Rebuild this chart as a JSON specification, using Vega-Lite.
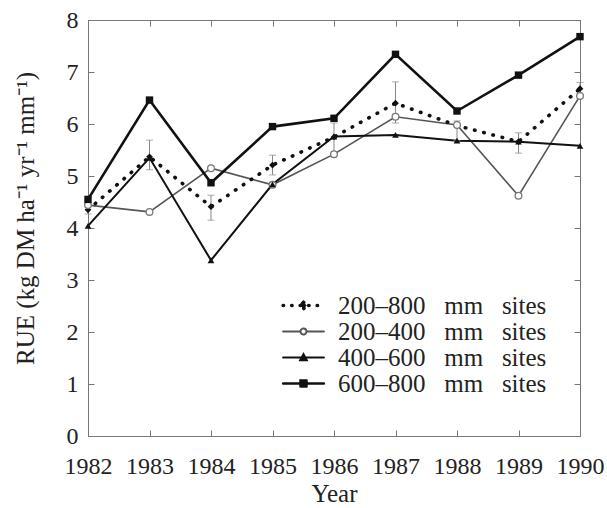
{
  "$schema": "https://vega.github.io/schema/vega-lite/v6.json",
  "width": 492,
  "height": 416,
  "autosize": "none",
  "padding": {"left": 88, "top": 20, "right": 27, "bottom": 72},
  "background": "white",
  "view": {"stroke": "#777", "strokeWidth": 1},
  "config": {
    "font": "Liberation Serif",
    "axis": {
      "labelFont": "Liberation Serif",
      "labelFontSize": 24,
      "labelColor": "#222",
      "titleFont": "Liberation Serif",
      "titleFontSize": 25,
      "titleFontWeight": "normal",
      "titleColor": "#222",
      "domainColor": "#777",
      "tickColor": "#777",
      "grid": false
    },
    "legend": {
      "labelFont": "Liberation Serif",
      "labelFontSize": 25,
      "labelColor": "#222",
      "labelLimit": 400
    }
  },
  "datasets": {
    "rue": [
      {"year": 1982, "series": "200–800", "rue": 4.35},
      {"year": 1983, "series": "200–800", "rue": 5.37},
      {"year": 1984, "series": "200–800", "rue": 4.41},
      {"year": 1985, "series": "200–800", "rue": 5.21},
      {"year": 1986, "series": "200–800", "rue": 5.75},
      {"year": 1987, "series": "200–800", "rue": 6.40},
      {"year": 1988, "series": "200–800", "rue": 5.97},
      {"year": 1989, "series": "200–800", "rue": 5.66},
      {"year": 1990, "series": "200–800", "rue": 6.68},
      {"year": 1982, "series": "200–400", "rue": 4.44},
      {"year": 1983, "series": "200–400", "rue": 4.31},
      {"year": 1984, "series": "200–400", "rue": 5.15},
      {"year": 1985, "series": "200–400", "rue": 4.83},
      {"year": 1986, "series": "200–400", "rue": 5.42},
      {"year": 1987, "series": "200–400", "rue": 6.14},
      {"year": 1988, "series": "200–400", "rue": 5.98},
      {"year": 1989, "series": "200–400", "rue": 4.62},
      {"year": 1990, "series": "200–400", "rue": 6.54},
      {"year": 1982, "series": "400–600", "rue": 4.04},
      {"year": 1983, "series": "400–600", "rue": 5.35},
      {"year": 1984, "series": "400–600", "rue": 3.38},
      {"year": 1985, "series": "400–600", "rue": 4.84},
      {"year": 1986, "series": "400–600", "rue": 5.76},
      {"year": 1987, "series": "400–600", "rue": 5.79},
      {"year": 1988, "series": "400–600", "rue": 5.68},
      {"year": 1989, "series": "400–600", "rue": 5.66},
      {"year": 1990, "series": "400–600", "rue": 5.58},
      {"year": 1982, "series": "600–800", "rue": 4.55},
      {"year": 1983, "series": "600–800", "rue": 6.46},
      {"year": 1984, "series": "600–800", "rue": 4.87},
      {"year": 1985, "series": "600–800", "rue": 5.95},
      {"year": 1986, "series": "600–800", "rue": 6.11},
      {"year": 1987, "series": "600–800", "rue": 7.34},
      {"year": 1988, "series": "600–800", "rue": 6.25},
      {"year": 1989, "series": "600–800", "rue": 6.94},
      {"year": 1990, "series": "600–800", "rue": 7.68}
    ],
    "err": [
      {"year": 1982, "lo": 4.27, "hi": 4.43},
      {"year": 1983, "lo": 5.12, "hi": 5.69},
      {"year": 1984, "lo": 4.15, "hi": 4.63},
      {"year": 1985, "lo": 5.02, "hi": 5.40},
      {"year": 1986, "lo": 5.37, "hi": 6.02},
      {"year": 1987, "lo": 6.02, "hi": 6.81},
      {"year": 1988, "lo": 5.68, "hi": 6.06},
      {"year": 1989, "lo": 5.44, "hi": 5.83},
      {"year": 1990, "lo": 6.55, "hi": 6.80}
    ]
  },
  "resolve": {"axis": {"x": "independent", "y": "independent"}},
  "layer": [
    {
      "data": {"name": "rue"},
      "transform": [{"filter": "datum.series == '200–400'"}],
      "mark": {"type": "line", "strokeWidth": 1.6},
      "encoding": {
        "x": {
          "field": "year", "type": "quantitative",
          "scale": {"domain": [1982, 1990], "nice": false, "zero": false},
          "axis": {"title": "Year", "values": [1982,1983,1984,1985,1986,1987,1988,1989,1990], "format": "d", "tickSize": -6, "labelPadding": 24, "titlePadding": 3, "labelFlush": false, "labelOverlap": false}
        },
        "y": {
          "field": "rue", "type": "quantitative",
          "scale": {"domain": [0, 8], "nice": false},
          "axis": {"title": "RUE (kg DM ha⁻¹ yr⁻¹ mm⁻¹)", "titleY": 198, "values": [0,1,2,3,4,5,6,7,8], "tickSize": -6, "labelPadding": 16, "titlePadding": 28}
        },
        "color": {
          "field": "series", "type": "nominal",
          "scale": {"domain": ["200–800", "200–400", "400–600", "600–800"], "range": ["#111", "#555", "#111", "#111"]},
          "legend": {
            "orient": "none", "legendX": 203, "legendY": 273, "title": null,
            "padding": 0, "rowPadding": -3, "symbolSize": 144, "labelOffset": 22,
            "symbolStrokeWidth": 2,
            "labelExpr": "datum.label + '\u2002\u00a0mm\u2002\u00a0sites'",
            "encode": {
              "symbols": {
                "update": {
                  "shape": {"signal": "datum.value == '200–800' ? 'M-3.4,0L3.4,0M0,-0.55L0.55,0L0,0.55L-0.55,0Z' : datum.value == '200–400' ? 'M-3.4,0L-0.5,0M0.5,0L3.4,0M0.5,0A0.5,0.5 0 1,1 -0.5,0A0.5,0.5 0 1,1 0.5,0' : datum.value == '400–600' ? 'M-3.4,0L3.4,0M0,-0.55L0.55,0.45L-0.55,0.45Z' : 'M-3.4,0L3.4,0M-0.5,-0.5L0.5,-0.5L0.5,0.5L-0.5,0.5Z'"},
                  "fill": {"signal": "datum.value == '200–400' ? 'white' : '#111'"},
                  "stroke": {"signal": "datum.value == '200–400' ? '#555' : '#111'"},
                  "strokeDash": {"signal": "datum.value == '200–800' ? [0.5, 8] : [1, 0]"},
                  "strokeWidth": {"signal": "datum.value == '200–800' ? 3.5 : datum.value == '600–800' ? 2.5 : 2"},
                  "strokeCap": {"value": "round"},
                  "opacity": {"value": 1}
                }
              }
            }
          }
        }
      }
    },
    {
      "data": {"name": "rue"},
      "transform": [{"filter": "datum.series == '200–800'"}],
      "mark": {"type": "line", "strokeWidth": 3.6, "strokeDash": [0.5, 9], "strokeCap": "round"},
      "encoding": {
        "x": {"field": "year", "type": "quantitative", "axis": null},
        "y": {"field": "rue", "type": "quantitative", "axis": null},
        "color": {"field": "series", "type": "nominal"}
      }
    },
    {
      "data": {"name": "rue"},
      "transform": [{"filter": "datum.series == '400–600'"}],
      "mark": {"type": "line", "strokeWidth": 2},
      "encoding": {
        "x": {"field": "year", "type": "quantitative", "axis": null},
        "y": {"field": "rue", "type": "quantitative", "axis": null},
        "color": {"field": "series", "type": "nominal"}
      }
    },
    {
      "data": {"name": "rue"},
      "transform": [{"filter": "datum.series == '600–800'"}],
      "mark": {"type": "line", "strokeWidth": 2.6},
      "encoding": {
        "x": {"field": "year", "type": "quantitative", "axis": null},
        "y": {"field": "rue", "type": "quantitative", "axis": null},
        "color": {"field": "series", "type": "nominal"}
      }
    },
    {
      "data": {"name": "err"},
      "mark": {"type": "rule", "color": "#888", "strokeWidth": 1},
      "encoding": {
        "x": {"field": "year", "type": "quantitative", "axis": {"orient": "top", "title": null, "labels": false, "values": [1982,1983,1984,1985,1986,1987,1988,1989,1990], "tickSize": -6}},
        "y": {"field": "lo", "type": "quantitative", "axis": {"orient": "right", "title": null, "labels": false, "values": [0,1,2,3,4,5,6,7,8], "tickSize": -6}},
        "y2": {"field": "hi"}
      }
    },
    {
      "data": {"name": "err"},
      "mark": {"type": "tick", "orient": "horizontal", "color": "#888", "thickness": 1, "size": 7},
      "encoding": {
        "x": {"field": "year", "type": "quantitative", "axis": null},
        "y": {"field": "lo", "type": "quantitative", "axis": null}
      }
    },
    {
      "data": {"name": "err"},
      "mark": {"type": "tick", "orient": "horizontal", "color": "#888", "thickness": 1, "size": 7},
      "encoding": {
        "x": {"field": "year", "type": "quantitative", "axis": null},
        "y": {"field": "hi", "type": "quantitative", "axis": null}
      }
    },
    {
      "data": {"name": "rue"},
      "transform": [{"filter": "datum.series == '200–800'"}],
      "mark": {"type": "point", "shape": "diamond", "filled": true, "color": "#111", "opacity": 1, "size": 45},
      "encoding": {
        "x": {"field": "year", "type": "quantitative", "axis": null},
        "y": {"field": "rue", "type": "quantitative", "axis": null}
      }
    },
    {
      "data": {"name": "rue"},
      "transform": [{"filter": "datum.series == '200–400'"}],
      "mark": {"type": "point", "shape": "circle", "fill": "white", "stroke": "#777", "strokeWidth": 1.3, "opacity": 1, "size": 45},
      "encoding": {
        "x": {"field": "year", "type": "quantitative", "axis": null},
        "y": {"field": "rue", "type": "quantitative", "axis": null}
      }
    },
    {
      "data": {"name": "rue"},
      "transform": [{"filter": "datum.series == '400–600'"}],
      "mark": {"type": "point", "shape": "triangle-up", "filled": true, "color": "#111", "opacity": 1, "size": 45},
      "encoding": {
        "x": {"field": "year", "type": "quantitative", "axis": null},
        "y": {"field": "rue", "type": "quantitative", "axis": null}
      }
    },
    {
      "data": {"name": "rue"},
      "transform": [{"filter": "datum.series == '600–800'"}],
      "mark": {"type": "point", "shape": "square", "filled": true, "color": "#111", "opacity": 1, "size": 55},
      "encoding": {
        "x": {"field": "year", "type": "quantitative", "axis": null},
        "y": {"field": "rue", "type": "quantitative", "axis": null}
      }
    }
  ]
}
